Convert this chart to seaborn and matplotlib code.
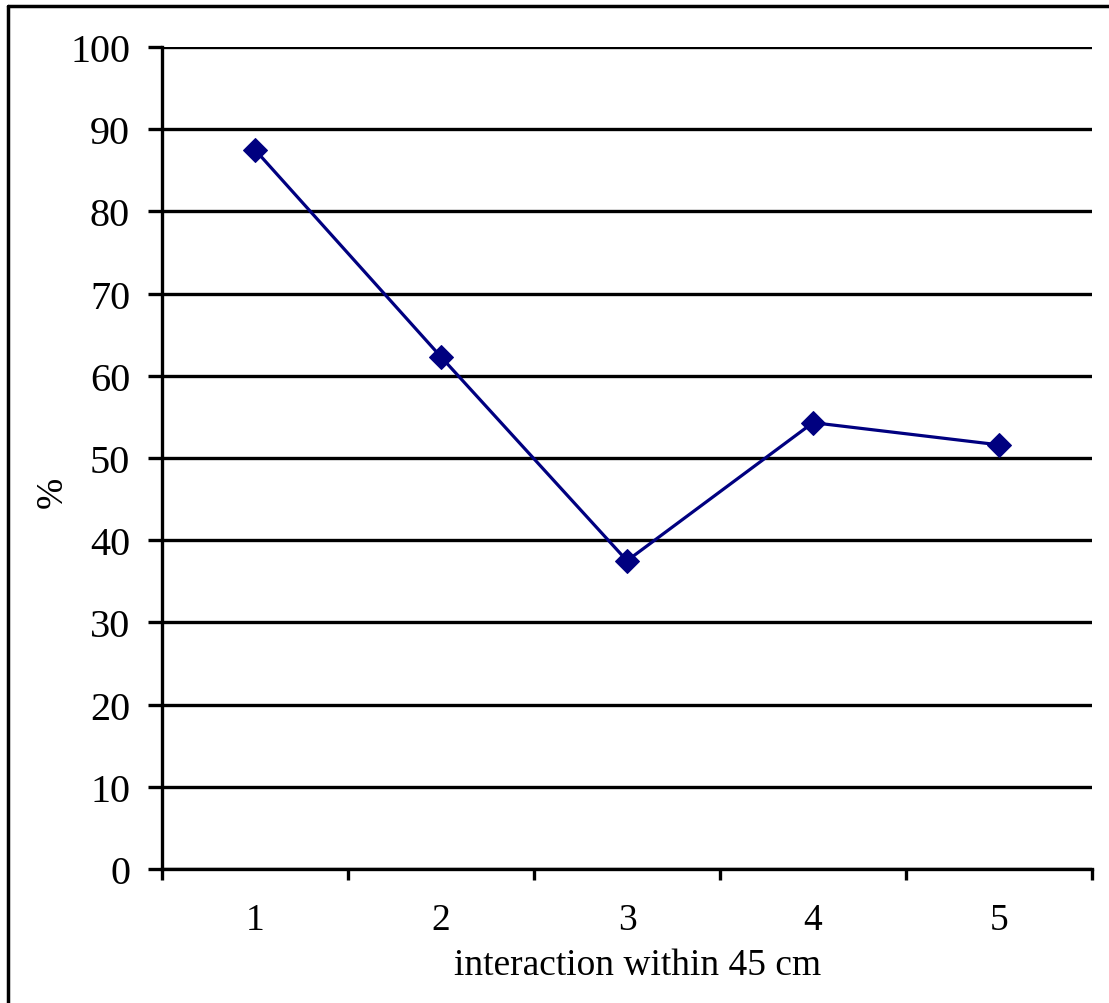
import numpy as np
import pandas as pd
import seaborn as sns
import matplotlib.pyplot as plt
from matplotlib.lines import Line2D

# values
categories = ['1', '2', '3', '4', '5']
percent = [87.5, 62.3, 37.5, 54.3, 51.6]
yticks = [0, 10, 20, 30, 40, 50, 60, 70, 80, 90, 100]

sns.set_theme(style='white')
plt.rcParams['font.family'] = ['Liberation Serif', 'DejaVu Serif']
plt.rcParams['text.color'] = 'black'
plt.rcParams['axes.labelcolor'] = 'black'
plt.rcParams['xtick.color'] = 'black'
plt.rcParams['ytick.color'] = 'black'

df = pd.DataFrame({'pos': np.arange(1, len(categories) + 1), 'pct': percent})

fig = plt.figure(figsize=(11.09, 10.04), dpi=100)
ax = fig.add_axes([162 / 1109, 1 - 870 / 1004, (1092 - 162) / 1109, (870 - 48) / 1004])

ax.yaxis.grid(True, color='black', linewidth=2.4)
ax.set_axisbelow(True)

sns.lineplot(data=df, x='pos', y='pct', ax=ax, color='#000080', linewidth=2.3,
             marker='D', markersize=12.5, markeredgecolor='#000080')

ax.set_xlim(0.5, len(categories) + 0.5)
ax.set_ylim(0, 100)
ax.set_yticks(yticks)
ax.set_xticks(df['pos'])
ax.set_xticklabels(categories)
ax.set_xticks(np.arange(0.5, len(categories) + 1), minor=True)

for s in ['top', 'right']:
    ax.spines[s].set_visible(False)
for s in ['left', 'bottom']:
    ax.spines[s].set_color('black')
    ax.spines[s].set_linewidth(2.4)

ax.tick_params(axis='y', which='major', direction='out', length=10, width=2.4,
               labelsize=29, pad=13, left=True)
ax.tick_params(axis='x', which='major', length=0, labelsize=27, pad=24)
ax.tick_params(axis='x', which='minor', direction='out', length=8, width=2.4,
               bottom=True)

ax.set_xlabel('interaction within 45 cm', fontsize=27, labelpad=8)
ax.xaxis.label.set_x(0.511)
ax.set_ylabel('%', fontsize=27)
ax.yaxis.set_label_coords(-0.099, 0.46)

# chart area border (only left and top edges visible)
fig.add_artist(Line2D([8 / 1109, 8 / 1109], [0, 1 - 7 / 1004], transform=fig.transFigure,
                      color='black', linewidth=2.5))
fig.add_artist(Line2D([8 / 1109, 1], [1 - 7 / 1004, 1 - 7 / 1004], transform=fig.transFigure,
                      color='black', linewidth=2.5))

fig.savefig('out.png', dpi=100)
